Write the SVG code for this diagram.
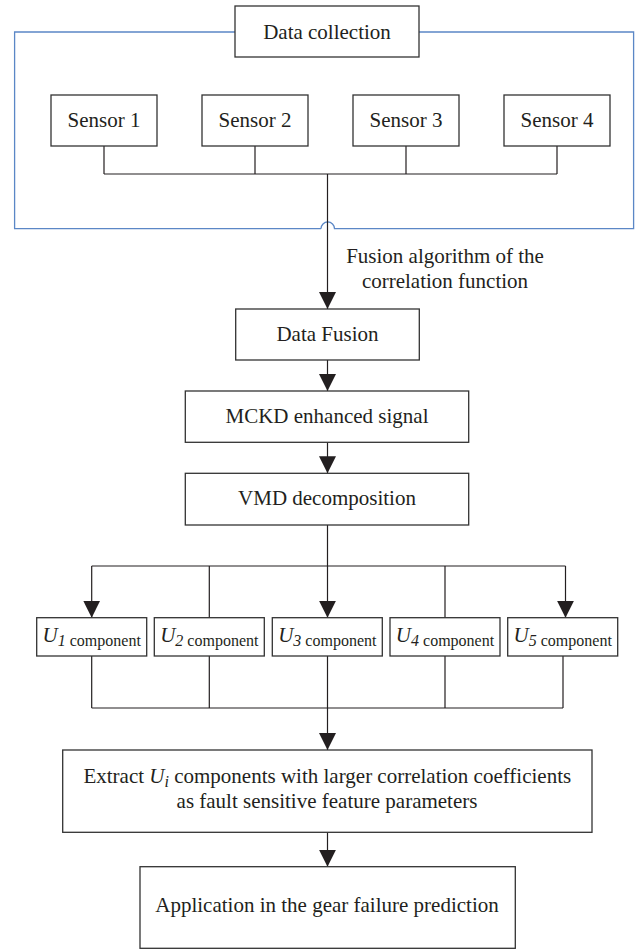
<svg xmlns="http://www.w3.org/2000/svg" width="637" height="949" viewBox="0 0 637 949">
<defs>
<style>
.box{fill:#fff;stroke:#333;stroke-width:1.3}
.ln{fill:none;stroke:#231f20;stroke-width:1.2}
.blue{fill:none;stroke:#5b87c6;stroke-width:1.3}
.t{font-size:21px;fill:#231f20;text-anchor:middle}
.it{font-style:italic}
.sm{font-size:16px}
</style>
<marker id="arr" markerUnits="userSpaceOnUse" markerWidth="18" markerHeight="18" refX="17" refY="8.5" orient="auto">
<path d="M0,0 L17,8.5 L0,17 Z" fill="#231f20"/>
</marker>
</defs>
<rect width="637" height="949" fill="#fff"/>
<g id="frame">
<path class="blue" d="M321,228.7 H14.6 V32 H633.6 V228.7 H334.5 A6.7,6.7 0 0 0 321,228.7"/>
</g>
<g id="connectors">
<path class="ln" d="M104,146 V174 M255,146 V174 M406,146 V174 M557,146 V174 M104,174 H557"/>
<path class="ln" d="M327.5,174 V309" marker-end="url(#arr)"/>
<path class="ln" d="M327.5,360 V391" marker-end="url(#arr)"/>
<path class="ln" d="M327.5,442.3 V473.3" marker-end="url(#arr)"/>
<path class="ln" d="M327.5,525 V566 M91.7,566 H565.5 M209.3,566 V617.7 M445,566 V617.7"/>
<path class="ln" d="M91.7,566 V617.7" marker-end="url(#arr)"/>
<path class="ln" d="M327.5,566 V617.7" marker-end="url(#arr)"/>
<path class="ln" d="M565.5,566 V617.7" marker-end="url(#arr)"/>
<path class="ln" d="M91.7,656 V708 M209.3,656 V708 M327.5,656 V708 M445,656 V708 M563,656 V708 M91.7,708 H563"/>
<path class="ln" d="M327.5,708 V750" marker-end="url(#arr)"/>
<path class="ln" d="M327.5,832.3 V866.7" marker-end="url(#arr)"/>
<g font-family="'Liberation Serif', 'Times New Roman', serif">
<text class="t" x="445" y="263">Fusion algorithm of the</text>
<text class="t" x="445" y="288">correlation function</text>
</g>
</g>
<g font-family="'Liberation Serif', 'Times New Roman', serif">
<g id="data-collection">
<rect class="box" x="235" y="6" width="184" height="51"/>
<text class="t" x="327" y="38.5">Data collection</text>
</g>
<g id="sensor1"><rect class="box" x="51" y="95" width="106" height="51"/><text class="t" x="104" y="127">Sensor 1</text></g>
<g id="sensor2"><rect class="box" x="202" y="95" width="106" height="51"/><text class="t" x="255" y="127">Sensor 2</text></g>
<g id="sensor3"><rect class="box" x="353" y="95" width="106" height="51"/><text class="t" x="406" y="127">Sensor 3</text></g>
<g id="sensor4"><rect class="box" x="504" y="95" width="106" height="51"/><text class="t" x="557" y="127">Sensor 4</text></g>
<g id="data-fusion"><rect class="box" x="235.7" y="309" width="183.6" height="51"/><text class="t" x="327.5" y="341">Data Fusion</text></g>
<g id="mckd"><rect class="box" x="185.3" y="391" width="283.4" height="51.3"/><text class="t" x="327" y="423">MCKD enhanced signal</text></g>
<g id="vmd"><rect class="box" x="185.3" y="473.3" width="283.4" height="51.7"/><text class="t" x="327" y="505">VMD decomposition</text></g>
<g id="u1"><rect class="box" x="36.7" y="617.7" width="110" height="38.3"/><text class="t" x="91.7" y="642"><tspan class="it">U</tspan><tspan class="it sm" dy="4">1</tspan><tspan class="sm"> component</tspan></text></g>
<g id="u2"><rect class="box" x="154.3" y="617.7" width="110" height="38.3"/><text class="t" x="209.3" y="642"><tspan class="it">U</tspan><tspan class="it sm" dy="4">2</tspan><tspan class="sm"> component</tspan></text></g>
<g id="u3"><rect class="box" x="272.3" y="617.7" width="110" height="38.3"/><text class="t" x="327.3" y="642"><tspan class="it">U</tspan><tspan class="it sm" dy="4">3</tspan><tspan class="sm"> component</tspan></text></g>
<g id="u4"><rect class="box" x="390" y="617.7" width="110" height="38.3"/><text class="t" x="445" y="642"><tspan class="it">U</tspan><tspan class="it sm" dy="4">4</tspan><tspan class="sm"> component</tspan></text></g>
<g id="u5"><rect class="box" x="507.7" y="617.7" width="110" height="38.3"/><text class="t" x="562.7" y="642"><tspan class="it">U</tspan><tspan class="it sm" dy="4">5</tspan><tspan class="sm"> component</tspan></text></g>
<g id="extract"><rect class="box" x="62.7" y="750" width="529.3" height="82.3"/>
<text class="t" x="327.3" y="782.7">Extract <tspan class="it">U</tspan><tspan class="it sm" dy="4">i</tspan><tspan dy="-4"> components with larger correlation coefficients</tspan></text>
<text class="t" x="327" y="808.3">as fault sensitive feature parameters</text></g>
<g id="application"><rect class="box" x="140" y="866.7" width="375.3" height="81.6"/><text class="t" x="327" y="912.3">Application in the gear failure prediction</text></g>
</g>
</svg>
